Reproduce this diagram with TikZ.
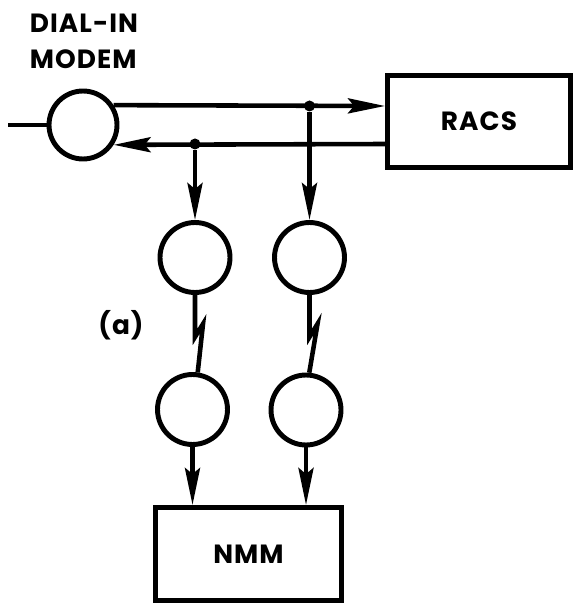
\documentclass[tikz,border=0pt]{standalone}
\usepackage{fontspec}
\setsansfont{Poppins}[LetterSpace=4]
\usetikzlibrary{arrows.meta}
\newcommand{\labelfont}{\sffamily\bfseries\fontsize{15}{20.5}\selectfont}
\pgfdeclarelayer{edgelayer}
\pgfdeclarelayer{nodelayer}
\pgfsetlayers{edgelayer,nodelayer,main}
\tikzstyle{unit}=[circle, draw=black, line width=2.8pt, minimum size=1.4cm, inner sep=0pt]
\tikzstyle{block}=[rectangle, draw=black, line width=2.8pt, inner sep=0pt, font=\labelfont]
\tikzstyle{tag}=[font=\labelfont, align=left, inner sep=0pt]
\tikzstyle{junction}=[circle, fill=black, inner sep=0pt, minimum size=2.2mm]
\tikzstyle{wire}=[-, draw=black, line width=2.6pt, line join=miter]
\tikzstyle{link}=[-{Stealth[length=7.4mm,width=3mm,inset=1.2mm]}, draw=black, line width=2.6pt]

\begin{document}
\begin{tikzpicture}[x=0.02cm, y=-0.02cm]
            \useasboundingbox (0,0) rectangle (575,607);
            \begin{pgfonlayer}{nodelayer}
                \node [style=tag] (modemlabel) at (84,41) {DIAL-IN\\MODEM};
                \node [style=unit, minimum size=1.36cm] (modem) at (83,125) {};
                \node [style=block, minimum width=3.66cm, minimum height=1.84cm] (racs) at (479,121.5) {RACS};
                \node [style=junction] (jtop) at (309.5,106) {};
                \node [style=junction] (jbot) at (195,144) {};
                \coordinate (line) at (8,125);

                \node [style=unit] (up1) at (195,257.5) {};
                \node [style=unit] (up2) at (309.5,257.5) {};
                \node [style=tag] (linktag) at (121,325) {(a)};
                \node [style=unit] (low1) at (192.5,409.5) {};
                \node [style=unit] (low2) at (306,410) {};

                \node [style=block, minimum width=3.72cm, minimum height=1.86cm] (nmm) at (248.5,554) {NMM};
            \end{pgfonlayer}
            \begin{pgfonlayer}{edgelayer}
                \draw [style=wire] (line) to (modem);
                \draw [style=link] (modem.33) to (racs.west |- jtop);
                \draw [style=link] (racs.west |- jbot) to (modem.-33);
                \draw [style=link] (jtop) to (up2);
                \draw [style=link] (jbot) to (up1);

                \draw [style=wire] (up1.south) -- ++(0,42) -- ++(8,-13) -- (low1.82);
                \draw [style=wire] (up2.south) -- ++(0,42) -- ++(8,-13) -- (low2.85);

                \draw [style=link] (low1) to (low1 |- nmm.north);
                \draw [style=link] (low2) to (low2 |- nmm.north);
            \end{pgfonlayer}
\end{tikzpicture}
\end{document}
